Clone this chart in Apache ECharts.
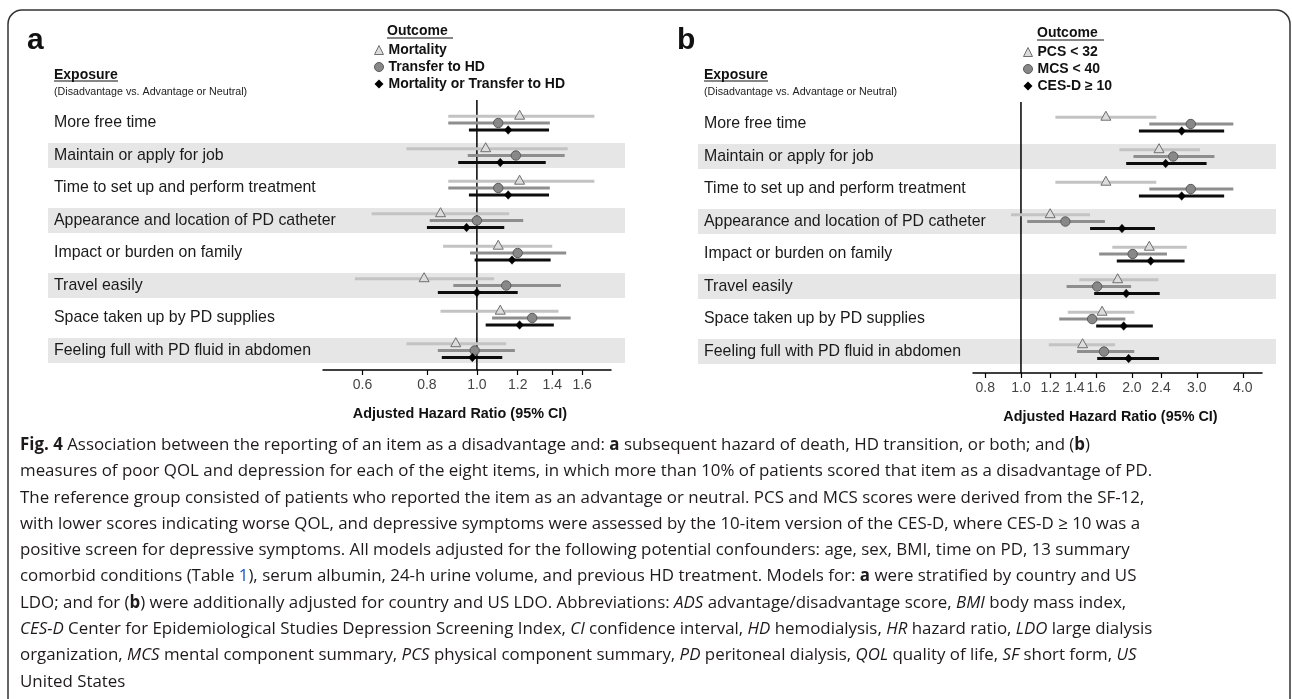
<!DOCTYPE html>
<html><head><meta charset="utf-8">
<script src="https://cdn.jsdelivr.net/npm/echarts@6/dist/echarts.min.js"></script>
<style>html,body{margin:0;padding:0;background:#fff}#c{width:1292px;height:699px}</style>
</head><body><div id="c"></div>
<script>
// ---------- DATA ----------
const exposures = [
  "More free time",
  "Maintain or apply for job",
  "Time to set up and perform treatment",
  "Appearance and location of PD catheter",
  "Impact or burden on family",
  "Travel easily",
  "Space taken up by PD supplies",
  "Feeling full with PD fluid in abdomen"
];
const outcomesA = ["Mortality", "Transfer to HD", "Mortality or Transfer to HD"];
const outcomesB = ["PCS < 32", "MCS < 40", "CES-D ≥ 10"];

// Panel a: adjusted hazard ratios (estimate, lower, upper)
const mortalityHR = [1.21, 1.04, 1.21, 0.85, 1.10, 0.79, 1.11, 0.91];
const mortalityLo = [0.88, 0.73, 0.88, 0.625, 0.86, 0.58, 0.85, 0.73];
const mortalityHi = [1.69, 1.50, 1.69, 1.155, 1.40, 1.08, 1.44, 1.14];
const transferHR  = [1.10, 1.19, 1.10, 1.00, 1.20, 1.14, 1.28, 0.99];
const transferLo  = [0.88, 0.96, 0.88, 0.81, 0.97, 0.90, 1.07, 0.84];
const transferHi  = [1.385, 1.48, 1.385, 1.23, 1.49, 1.455, 1.52, 1.185];
const bothHR      = [1.15, 1.11, 1.15, 0.955, 1.17, 1.00, 1.21, 0.98];
const bothLo      = [0.965, 0.92, 0.965, 0.80, 0.99, 0.84, 1.04, 0.855];
const bothHi      = [1.38, 1.36, 1.38, 1.13, 1.39, 1.20, 1.41, 1.12];

// Panel b
const pcsHR = [1.70, 2.37, 1.70, 1.20, 2.23, 1.83, 1.66, 1.47];
const pcsLo = [1.24, 1.85, 1.24, 0.94, 1.77, 1.44, 1.34, 1.19];
const pcsHi = [2.33, 3.06, 2.33, 1.54, 2.82, 2.36, 2.03, 1.80];
const mcsHR = [2.89, 2.59, 2.89, 1.32, 2.01, 1.61, 1.56, 1.68];
const mcsLo = [2.23, 2.02, 2.23, 1.04, 1.63, 1.33, 1.27, 1.42];
const mcsHi = [3.77, 3.35, 3.77, 1.69, 2.49, 1.99, 1.92, 2.03];
const cesHR = [2.73, 2.47, 2.73, 1.88, 2.25, 1.93, 1.90, 1.96];
const cesLo = [2.09, 1.93, 2.09, 1.54, 1.82, 1.58, 1.60, 1.61];
const cesHi = [3.56, 3.19, 3.56, 2.31, 2.78, 2.38, 2.28, 2.37];

const ticksA = [0.6, 0.8, 1.0, 1.2, 1.4, 1.6];
const ticksB = [0.8, 1.0, 1.2, 1.4, 1.6, 2.0, 2.4, 3.0, 4.0];

const captionLines = [
  "{b|Fig. 4} Association between the reporting of an item as a disadvantage and: {b|a} subsequent hazard of death, HD transition, or both; and ({b|b})",
  "measures of poor QOL and depression for each of the eight items, in which more than 10% of patients scored that item as a disadvantage of PD.",
  "The reference group consisted of patients who reported the item as an advantage or neutral. PCS and MCS scores were derived from the SF-12,",
  "with lower scores indicating worse QOL, and depressive symptoms were assessed by the 10-item version of the CES-D, where CES-D ≥ 10 was a",
  "positive screen for depressive symptoms. All models adjusted for the following potential confounders: age, sex, BMI, time on PD, 13 summary",
  "comorbid conditions (Table {l|1}), serum albumin, 24-h urine volume, and previous HD treatment. Models for: {b|a} were stratified by country and US",
  "LDO; and for ({b|b}) were additionally adjusted for country and US LDO. Abbreviations: {i|ADS} advantage/disadvantage score, {i|BMI} body mass index,",
  "{i|CES-D} Center for Epidemiological Studies Depression Screening Index, {i|CI} confidence interval, {i|HD} hemodialysis, {i|HR} hazard ratio, {i|LDO} large dialysis",
  "organization, {i|MCS} mental component summary, {i|PCS} physical component summary, {i|PD} peritoneal dialysis, {i|QOL} quality of life, {i|SF} short form, {i|US}",
  "United States"
];

// ---------- LAYOUT / STYLE ----------
const FONT = '"Liberation Sans", Arial, Helvetica, sans-serif';
const CAP_FONT = '"Open Sans", "Noto Sans", sans-serif';
const CAP_SIZE = 17;
const panels = [
  {key:'a', left:323, width:288, top:100, height:270, yMin:-0.708, yMax:7.6, xMin:0.503, xMax:1.82,
   bandX0:48, bandX1:625, labelX:54, ticks:ticksA, outcomes:outcomesA,
   series:[[mortalityHR, mortalityLo, mortalityHi],[transferHR, transferLo, transferHi],[bothHR, bothLo, bothHi]],
   legendLeft:374, legendTop:42, letterX:27, headX:387, headY:32, headUL:[387,453,38]},
  {key:'b', left:973, width:289, top:102, height:271, yMin:-0.677, yMax:7.66, xMin:0.741, xMax:4.51,
   bandX0:698, bandX1:1276, labelX:704, ticks:ticksB, outcomes:outcomesB,
   series:[[pcsHR, pcsLo, pcsHi],[mcsHR, mcsLo, mcsHi],[cesHR, cesLo, cesHi]],
   legendLeft:1023, legendTop:44, letterX:677, headX:1037, headY:34, headUL:[1037,1104,40]}
];
const mk = [
  {line:'#c3c3c3', fill:'#dcdcdc', stroke:'#6f6f6f', shape:'triangle', off:-6.8, icon:'triangle'},
  {line:'#8e8e8e', fill:'#888888', stroke:'#5a5a5a', shape:'circle', off:0, icon:'circle'},
  {line:'#0d0d0d', fill:'#000000', stroke:'#000000', shape:'diamond', off:7, icon:'diamond'}
];

function ciRenderer(st) {
  return function (params, api) {
    const row = api.value(0);
    const pe = api.coord([api.value(1), row]);
    const pl = api.coord([api.value(2), row]);
    const ph = api.coord([api.value(3), row]);
    const y = pe[1] + st.off, x = pe[0];
    const ch = [{type:'line', shape:{x1:pl[0], y1:y, x2:ph[0], y2:y}, style:{stroke:st.line, lineWidth:3}}];
    if (st.shape === 'triangle') {
      ch.push({type:'polygon', shape:{points:[[x, y-6],[x+5, y+3],[x-5, y+3]]}, style:{fill:st.fill, stroke:st.stroke, lineWidth:1}});
    } else if (st.shape === 'circle') {
      ch.push({type:'circle', shape:{cx:x, cy:y, r:4.7}, style:{fill:st.fill, stroke:st.stroke, lineWidth:1}});
    } else {
      ch.push({type:'polygon', shape:{points:[[x, y-4.3],[x+3.8, y],[x, y+4.3],[x-3.8, y]]}, style:{fill:st.fill, stroke:st.stroke, lineWidth:0.5}});
    }
    return {type:'group', children:ch};
  };
}

const grid = [], xAxis = [], yAxis = [], series = [], legend = [], graphic = [];

panels.forEach((p, pi) => {
  grid.push({left:p.left, top:p.top, width:p.width, height:p.height, containLabel:false});
  const tv = p.ticks.map(Math.log);
  xAxis.push({
    gridIndex:pi, type:'value', min:Math.log(p.xMin), max:Math.log(p.xMax),
    axisLine:{show:true, onZero:false, lineStyle:{color:'#000', width:1.5}},
    axisTick:{show:true, customValues:tv, length:5, lineStyle:{color:'#000', width:1.2}},
    axisLabel:{customValues:tv, formatter:v => Math.exp(v).toFixed(1), fontSize:14, color:'#444', fontFamily:FONT, margin:8},
    splitLine:{show:false},
    name:'Adjusted Hazard Ratio (95% CI)', nameLocation:'middle', nameGap:37,
    nameTextStyle:{fontSize:14.4, fontWeight:'bold', color:'#111', fontFamily:FONT, padding:[0,14,0,0]}
  });
  yAxis.push({
    gridIndex:pi, type:'value', inverse:true, min:p.yMin, max:p.yMax,
    axisLine:{show:false, onZero:false}, axisTick:{show:false}, splitLine:{show:false},
    axisLabel:{customValues:exposures.map((_, i) => i), formatter:v => exposures[Math.round(v)],
      align:'left', margin:p.left - p.labelX, fontSize:15.9, color:'#1a1a1a', fontFamily:FONT}
  });
  // shaded bands behind alternate rows
  series.push({
    type:'custom', name:'band-' + p.key, xAxisIndex:pi, yAxisIndex:pi, z:-1, clip:false, silent:true,
    encode:{x:0, y:1},
    data:exposures.map((_, i) => [0, i]).filter(d => d[1] % 2 === 1),
    renderItem:(params, api) => {
      const y = api.coord([0, api.value(1)])[1];
      return {type:'rect', shape:{x:p.bandX0, y:y-12.5, width:p.bandX1 - p.bandX0, height:25}, style:{fill:'#e6e6e6'}};
    }
  });
  // reference line at HR = 1
  series.push({
    type:'line', name:'ref-' + p.key, xAxisIndex:pi, yAxisIndex:pi, silent:true, symbol:'none', z:3,
    data:[[Math.log(1), p.yMin], [Math.log(1), p.yMax]],
    lineStyle:{color:'#000', width:1.5}
  });
  p.series.forEach((s, si) => {
    series.push({
      type:'custom', name:p.outcomes[si], xAxisIndex:pi, yAxisIndex:pi, z:4,
      encode:{x:[1, 2, 3], y:0},
      itemStyle:{color:mk[si].fill},
      data:exposures.map((_, i) => [i, Math.log(s[0][i]), Math.log(s[1][i]), Math.log(s[2][i])]),
      renderItem:ciRenderer(mk[si])
    });
  });
  legend.push({
    orient:'vertical', left:p.legendLeft, top:p.legendTop, itemWidth:9, itemHeight:9, itemGap:1,
    selectedMode:false, padding:0,
    textStyle:{fontSize:14, fontWeight:'bold', color:'#111', fontFamily:FONT, lineHeight:16},
    data:p.outcomes.map((n, i) => ({name:n, icon:mk[i].icon,
      itemStyle:{color:mk[i].fill, borderColor:mk[i].stroke, borderWidth: i === 2 ? 0 : 1}}))
  });
  // panel letter
  graphic.push({type:'text', x:p.letterX, y:41, style:{text:p.key, fontSize:30, fontWeight:'bold', fontFamily:FONT, fill:'#111', verticalAlign:'middle'}});
  // Exposure header
  graphic.push({type:'text', x:p.labelX, y:75, style:{text:'Exposure', fontSize:14, fontWeight:'bold', fontFamily:FONT, fill:'#111', verticalAlign:'middle'}});
  graphic.push({type:'line', shape:{x1:p.labelX, y1:81, x2:p.labelX + 64, y2:81}, style:{stroke:'#111', lineWidth:1.2}});
  graphic.push({type:'text', x:p.labelX, y:92, style:{text:'(Disadvantage vs. Advantage or Neutral)', fontSize:10.7, fontFamily:FONT, fill:'#222', verticalAlign:'middle'}});
  // Outcome header
  graphic.push({type:'text', x:p.headX, y:p.headY - 1, style:{text:'Outcome', fontSize:14, fontWeight:'bold', fontFamily:FONT, fill:'#111', verticalAlign:'middle'}});
  graphic.push({type:'line', shape:{x1:p.headUL[0], y1:p.headUL[2], x2:p.headUL[1], y2:p.headUL[2]}, style:{stroke:'#111', lineWidth:1.2}});
});

// frame
graphic.push({type:'rect', z:-10, shape:{x:8, y:10, width:1282, height:720, r:14}, style:{fill:'none', stroke:'#333', lineWidth:1.5}});

// caption: calibrate horizontal scale of the caption font to the reference line width
const ctx = document.createElement('canvas').getContext('2d');
function capFont(w, s) { return s + ' ' + w + ' ' + CAP_SIZE + 'px ' + CAP_FONT; }
function richWidth(str) {
  let w = 0, m; const re = /\{(\w)\|([^}]*)\}|([^{]+)/g;
  while ((m = re.exec(str))) {
    if (m[3] !== undefined) { ctx.font = capFont('normal', 'normal'); w += ctx.measureText(m[3]).width; }
    else {
      ctx.font = m[1] === 'b' ? capFont('bold', 'normal') : (m[1] === 'i' ? capFont('normal', 'italic') : capFont('normal', 'normal'));
      w += ctx.measureText(m[2]).width;
    }
  }
  return w;
}
const capScale = 1070 / richWidth(captionLines[0]);
const capRich = {
  b:{fontSize:CAP_SIZE, fontFamily:CAP_FONT, fontWeight:'bold', fill:'#1e1a1b'},
  i:{fontSize:CAP_SIZE, fontFamily:CAP_FONT, fontStyle:'italic', fill:'#1e1a1b'},
  l:{fontSize:CAP_SIZE, fontFamily:CAP_FONT, fill:'#1a56c4'}
};
captionLines.forEach((t, i) => {
  graphic.push({type:'text', x:20, y:445 + i * 26.33, scaleX:capScale,
    style:{text:t, fontSize:CAP_SIZE, fontFamily:CAP_FONT, fill:'#1e1a1b', verticalAlign:'middle', rich:capRich}});
});

const chart = echarts.init(document.getElementById('c'), null, {renderer:'canvas'});
chart.setOption({
  backgroundColor:'#fff', animation:false,
  grid, xAxis, yAxis, series, legend, graphic
});
</script>
</body></html>
